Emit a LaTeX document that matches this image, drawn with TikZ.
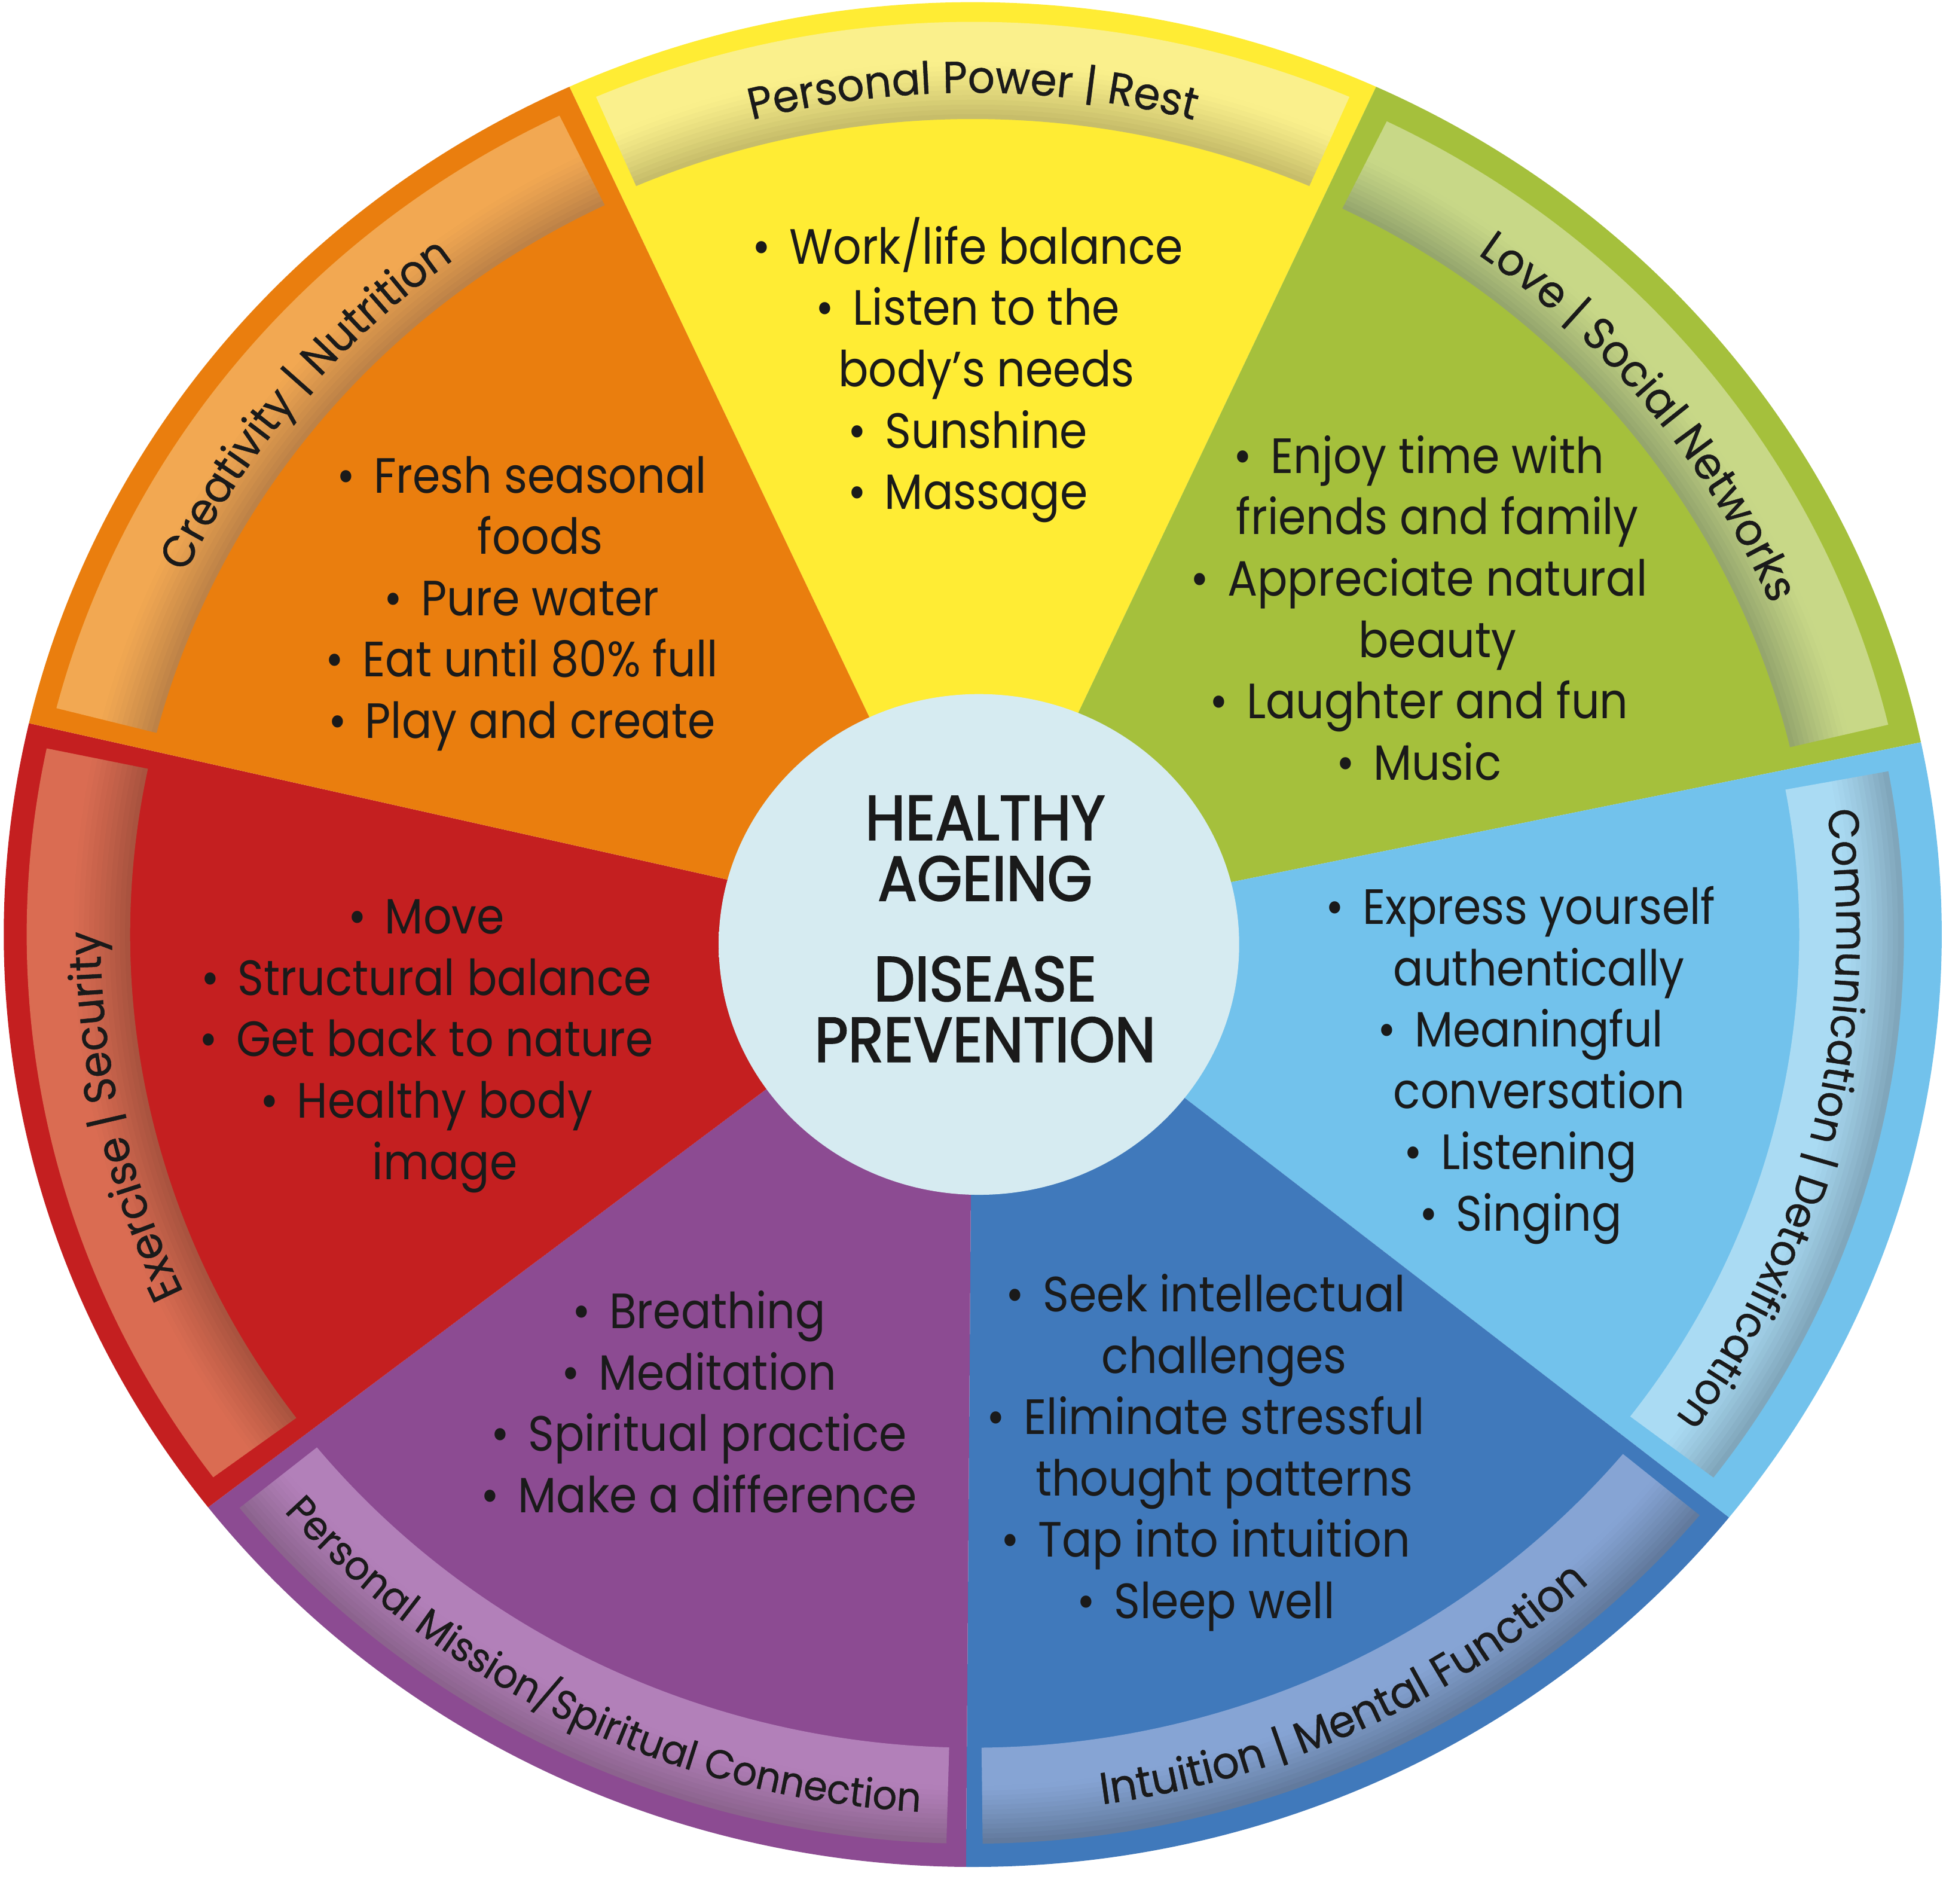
\documentclass[tikz,border=0pt]{standalone}
\usepackage{fontspec}
\setmainfont{Poppins}
\newfontfamily\bodyfont{Poppins}[FakeStretch=0.9]
\newfontfamily\ctrfont{Poppins}[FakeStretch=0.92,FakeBold=2]
\newfontfamily\bandfontfam{Poppins}[FakeStretch=0.95,FakeBold=0.6]
\usetikzlibrary{decorations.text}

\definecolor{cYel}{RGB}{255,236,52}
\definecolor{cYelP}{RGB}{250,240,140}
\definecolor{cYelS}{RGB}{196,186,104}
\definecolor{cOra}{RGB}{234,126,14}
\definecolor{cOraP}{RGB}{242,168,82}
\definecolor{cOraS}{RGB}{186,128,70}
\definecolor{cGrn}{RGB}{165,192,60}
\definecolor{cGrnP}{RGB}{200,216,135}
\definecolor{cGrnS}{RGB}{146,163,108}
\definecolor{cLbl}{RGB}{114,194,236}
\definecolor{cLblP}{RGB}{170,219,243}
\definecolor{cLblS}{RGB}{126,163,184}
\definecolor{cDbl}{RGB}{64,121,187}
\definecolor{cDblP}{RGB}{134,164,212}
\definecolor{cDblS}{RGB}{96,120,154}
\definecolor{cPur}{RGB}{140,75,146}
\definecolor{cPurP}{RGB}{178,128,185}
\definecolor{cPurS}{RGB}{138,98,140}
\definecolor{cRed}{RGB}{196,31,32}
\definecolor{cRedP}{RGB}{218,108,82}
\definecolor{cRedS}{RGB}{166,82,62}
\definecolor{cCtr}{RGB}{214,235,241}
\definecolor{cCtrA}{RGB}{200,222,228}
\definecolor{cCtrM}{RGB}{165,189,195}
\definecolor{cCtrE}{RGB}{128,152,158}
\definecolor{cTxt}{RGB}{26,26,26}

\pgfdeclareradialshading{ctrshade}{\pgfpoint{0bp}{0bp}}{color(0bp)=(cCtr); color(40bp)=(cCtr); color(45.5bp)=(cCtrA); color(48.8bp)=(cCtrM); color(50bp)=(cCtrE)}

\newcommand\bl{\llap{•\kern 15pt}}

\newcommand\wedgefill[3]{\fill[#3] (0,0) -- ({#1}:782) arc[start angle={#1}, end angle={#2}, radius=782] -- cycle;}

% #1 a1, #2 a2, #3 ri, #4 ro, #5 pale, #6 shadow, #7 side (0 inner / 1 outer), #8 inset
\newcommand\bandfill[8]{%
  \foreach \k in {0,...,19}{%
    \pgfmathsetmacro\rA{#3+(#4-#3)*\k/20}%
    \pgfmathsetmacro\rB{#3+(#4-#3)*(\k+1)/20+0.5}%
    \pgfmathsetmacro\dd{(#7==0)?((\k+0.5)*(#4-#3)/20):((19.5-\k)*(#4-#3)/20)}%
    \pgfmathsetmacro\sh{100*(max(0,1-\dd/48))^1.2}%
    \fill[#6!\sh!#5] ({#1+#8}:\rA) arc[start angle={#1+#8}, end angle={#2-#8}, radius=\rA]
      -- ({#2-#8}:\rB) arc[start angle={#2-#8}, end angle={#1+#8}, radius=\rB] -- cycle;
  }}

% #1 centre angle, #2 radius, #3 direction (1 clockwise, -1 counter-clockwise), #4 font size, #5 text
\newcommand\bandlabel[5]{%
  \path[decorate, decoration={text along path, text align=center,
      text format delimiters={[}{]}, text={[\bandfontfam\fontsize{#4}{42}\selectfont\color{cTxt}]#5}}]
    ({#1+#3*32}:#2) arc[start angle={#1+#3*32}, end angle={#1-#3*32}, radius=#2];}

\tikzset{
  bodytext/.style={align=center, text=cTxt, inner sep=0pt,
    font=\bodyfont\fontsize{40}{49.5}\selectfont},
  ctrtext/.style={align=center, text=cTxt, inner sep=0pt,
    font=\ctrfont\fontsize{51}{49}\selectfont},
}

\begin{document}
\begin{tikzpicture}[x=1pt,y=1pt]
\useasboundingbox (0,0) rectangle (1568,1536);
\fill[white] (0,0) rectangle (1568,1536);

\begin{scope}[shift={(785,782)}, yscale=0.962]
  % wedges
  \wedgefill{65.4}{114.6}{cYel}
  \wedgefill{11.9}{65.4}{cGrn}
  \wedgefill{-38.7}{11.9}{cLbl}
  \wedgefill{-90.4}{-38.7}{cDbl}
  \wedgefill{-142.1}{-90.4}{cPur}
  \wedgefill{166.9}{217.9}{cRed}
  \wedgefill{114.6}{166.9}{cOra}
  % bands
  \bandfill{65.4}{114.6}{684}{765}{cYelP}{cYelS}{0}{1.2}
  \bandfill{11.9}{65.4}{678}{759}{cGrnP}{cGrnS}{0}{1.5}
  \bandfill{-38.7}{11.9}{667}{751}{cLblP}{cLblS}{1}{1.4}
  \bandfill{-90.4}{-38.7}{682}{762}{cDblP}{cDblS}{1}{1.0}
  \bandfill{-142.1}{-90.4}{682}{762}{cPurP}{cPurS}{1}{1.2}
  \bandfill{166.9}{217.9}{680}{763}{cRedP}{cRedS}{0}{1.3}
  \bandfill{114.6}{166.9}{680}{763}{cOraP}{cOraS}{0}{1.3}
  % band labels
  \bandlabel{90}{706}{1}{36}{Personal Power | Rest}
  \bandlabel{140.75}{704}{1}{36}{Creativity | Nutrition}
  \bandlabel{38.65}{701}{1}{36}{Love | Social Networks}
  \bandlabel{-13.4}{697}{1}{34.5}{Communication | Detoxification}
  \bandlabel{192.4}{704}{1}{36}{Exercise | Security}
  \bandlabel{-64.55}{737}{-1}{36}{Intuition | Mental Function}
  \bandlabel{-116.25}{737}{-1}{32.5}{Personal Mission/Spiritual Connection}
\end{scope}

% centre disc
\path[shading=ctrshade] (790,774) ellipse [x radius=210, y radius=202];

% texts
\node[bodytext] (tYel) at (796,1237.5) {\bl Work/life balance\\\bl Listen to the\\body’s needs\\\bl Sunshine\\\bl Massage};
\node[bodytext] (tOra) at (436,1049) {\bl Fresh seasonal\\foods\\\bl Pure water\\\bl Eat until 80\% full\\\bl Play and create};
\node[bodytext] (tGrn) at (1160,1045.5) {\bl Enjoy time with\\friends and family\\\bl Appreciate natural\\beauty\\\bl Laughter and fun\\\bl Music};
\node[bodytext] (tRed) at (359,692) {\bl Move\\\bl Structural balance\\\bl Get back to nature\\\bl Healthy body\\image};
\node[bodytext] (tLbl) at (1242,676.5) {\bl Express yourself\\authentically\\\bl Meaningful\\conversation\\\bl Listening\\\bl Singing};
\node[bodytext] (tDbl) at (988,364) {\bl Seek intellectual\\challenges\\\bl Eliminate stressful\\thought patterns\\\bl Tap into intuition\\\bl Sleep well};
\node[bodytext] (tPur) at (579,405) {\bl Breathing\\\bl Meditation\\\bl Spiritual practice\\\bl Make a difference};
\node[ctrtext] (tCtr) at (795,786.5) {HEALTHY\\AGEING\\[32pt]DISEASE\\PREVENTION};
\end{tikzpicture}
\end{document}
